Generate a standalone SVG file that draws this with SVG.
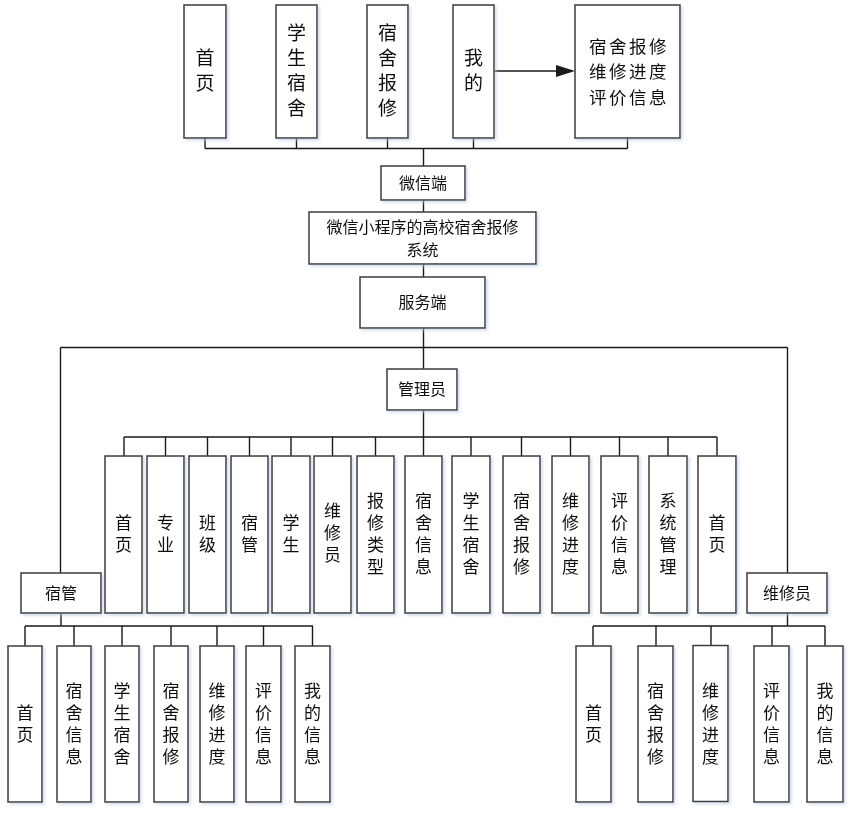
<svg xmlns="http://www.w3.org/2000/svg" width="852" height="815" viewBox="0 0 852 815">
<style>
.b{fill:#fff;stroke:#3a3a3a;stroke-width:1.5}
.c{fill:none;stroke:#1a1a1a;stroke-width:1.4}
text{font-family:"Noto Sans CJK SC","Noto Sans",sans-serif;fill:#111;text-anchor:middle}
.v{writing-mode:vertical-rl}
.t19{font-size:19px;letter-spacing:6px}
.t17{font-size:17px;letter-spacing:5px}
.t175{font-size:17.5px;letter-spacing:2.5px}
.t16{font-size:16px}
</style>
<defs>
<filter id="sh" x="-20%" y="-20%" width="150%" height="150%">
<feDropShadow dx="2" dy="2" stdDeviation="1.5" flood-color="#b8c8e0" flood-opacity="0.6"/>
</filter>
</defs>
<rect width="852" height="815" fill="#fff"/>
<g id="connectors">
<path class="c" d="M205,138V148.5M296.5,138V148.5M387.5,138V148.5M473.5,138V148.5M627.5,138V148.5M205,148.5H627.5M423.5,148.5V166"/>
<path class="c" d="M494,71H557"/>
<polygon points="556,65 575,71 556,77" fill="#1a1a1a"/>
<path class="c" d="M423.5,200V212M423.5,264V277M423.5,328V369M60.5,347.5H787.5M60.5,347.5V573M787.5,347.5V573"/>
<path class="c" d="M423.5,410V437M124,437H717M124,437V456M165.5,437V456M207.5,437V456M249.5,437V456M291,437V456M332.5,437V456M375.5,437V456M423.5,437V456M471,437V456M521.5,437V456M570.5,437V456M619.5,437V456M668,437V456M717,437V456"/>
<path class="c" d="M61,613V626M25,626H313M25,626V646M74,626V646M122,626V646M171,626V646M217,626V646M263.5,626V646M312.5,626V646"/>
<path class="c" d="M787.5,613V626M593,626H825M593,626V646M656,626V646M711,626V645.5M772,626V646M825,626V646"/>
</g>
<g filter="url(#sh)">
<g id="n-top-home"><rect class="b" x="184" y="5" width="42" height="133"/><text class="v t19" x="205" y="73.5">首页</text></g>
<g id="n-top-dorm"><rect class="b" x="276" y="5" width="41" height="133"/><text class="v t19" x="296.5" y="73.5">学生宿舍</text></g>
<g id="n-top-repair"><rect class="b" x="367" y="5" width="41" height="133"/><text class="v t19" x="387.5" y="73.5">宿舍报修</text></g>
<g id="n-top-mine"><rect class="b" x="453" y="5" width="41" height="133"/><text class="v t19" x="473.5" y="73.5">我的</text></g>
<g id="n-top-info"><rect class="b" x="575" y="5" width="105" height="133"/><text class="t175" x="629" y="52.7">宿舍报修</text><text class="t175" x="629" y="78.2">维修进度</text><text class="t175" x="629" y="103.7">评价信息</text></g>
<g id="n-wechat"><rect class="b" x="381" y="166" width="84" height="34"/><text class="t16" x="423" y="189">微信端</text></g>
<g id="n-system"><rect class="b" x="309" y="212" width="227" height="52"/><text class="t16" x="422.5" y="232.5">微信小程序的高校宿舍报修</text><text class="t16" x="422.5" y="256">系统</text></g>
<g id="n-server"><rect class="b" x="360" y="277" width="125" height="51"/><text class="t16" x="422.5" y="308">服务端</text></g>
<g id="n-admin"><rect class="b" x="387" y="369" width="70" height="41"/><text class="t16" x="422" y="395">管理员</text></g>
<g id="n-dorm-mgr"><rect class="b" x="21" y="573" width="80" height="40"/><text class="t16" x="61" y="599">宿管</text></g>
<g id="n-repairman"><rect class="b" x="747" y="573" width="80" height="40"/><text class="t16" x="787" y="599">维修员</text></g>

<g id="a1"><rect class="b" x="105" y="456" width="37" height="157"/><text class="v t17" x="123.5" y="536.5">首页</text></g>
<g id="a2"><rect class="b" x="147" y="456" width="37" height="157"/><text class="v t17" x="165.5" y="536.5">专业</text></g>
<g id="a3"><rect class="b" x="189" y="456" width="37" height="157"/><text class="v t17" x="207.5" y="536.5">班级</text></g>
<g id="a4"><rect class="b" x="231" y="456" width="37" height="157"/><text class="v t17" x="249.5" y="536.5">宿管</text></g>
<g id="a5"><rect class="b" x="272" y="456" width="38" height="157"/><text class="v t17" x="291" y="536.5">学生</text></g>
<g id="a6"><rect class="b" x="314" y="456" width="37" height="157"/><text class="v t17" x="332.5" y="535.5">维修员</text></g>
<g id="a7"><rect class="b" x="357" y="456" width="37" height="157"/><text class="v t17" x="375.5" y="536.5">报修类型</text></g>
<g id="a8"><rect class="b" x="405" y="456" width="37" height="157"/><text class="v t17" x="423.5" y="536.5">宿舍信息</text></g>
<g id="a9"><rect class="b" x="452" y="456" width="38" height="157"/><text class="v t17" x="471" y="536.5">学生宿舍</text></g>
<g id="a10"><rect class="b" x="503" y="456" width="37" height="157"/><text class="v t17" x="521.5" y="536.5">宿舍报修</text></g>
<g id="a11"><rect class="b" x="552" y="456" width="37" height="157"/><text class="v t17" x="570.5" y="536.5">维修进度</text></g>
<g id="a12"><rect class="b" x="601" y="456" width="37" height="157"/><text class="v t17" x="619.5" y="536.5">评价信息</text></g>
<g id="a13"><rect class="b" x="649" y="456" width="38" height="157"/><text class="v t17" x="668" y="536.5">系统管理</text></g>
<g id="a14"><rect class="b" x="698" y="456" width="38" height="157"/><text class="v t17" x="717" y="536.5">首页</text></g>

<g id="d1"><rect class="b" x="8" y="646" width="34" height="156"/><text class="v t17" x="25" y="726.5">首页</text></g>
<g id="d2"><rect class="b" x="57" y="646" width="34" height="156"/><text class="v t17" x="74" y="726.5">宿舍信息</text></g>
<g id="d3"><rect class="b" x="105" y="646" width="34" height="156"/><text class="v t17" x="122" y="726.5">学生宿舍</text></g>
<g id="d4"><rect class="b" x="154" y="646" width="34" height="156"/><text class="v t17" x="171" y="726.5">宿舍报修</text></g>
<g id="d5"><rect class="b" x="200" y="646" width="34" height="156"/><text class="v t17" x="217" y="726.5">维修进度</text></g>
<g id="d6"><rect class="b" x="246" y="646" width="35" height="156"/><text class="v t17" x="263.5" y="726.5">评价信息</text></g>
<g id="d7"><rect class="b" x="295" y="646" width="35" height="156"/><text class="v t17" x="312.5" y="726.5">我的信息</text></g>

<g id="r1"><rect class="b" x="576" y="646" width="35" height="156"/><text class="v t17" x="593.5" y="726.5">首页</text></g>
<g id="r2"><rect class="b" x="638" y="646" width="35" height="156"/><text class="v t17" x="655.5" y="726.5">宿舍报修</text></g>
<g id="r3"><rect class="b" x="693" y="645.5" width="35" height="156"/><text class="v t17" x="710.5" y="726.5">维修进度</text></g>
<g id="r4"><rect class="b" x="754" y="646" width="35" height="156"/><text class="v t17" x="771.5" y="726.5">评价信息</text></g>
<g id="r5"><rect class="b" x="807" y="646" width="36" height="156"/><text class="v t17" x="825" y="726.5">我的信息</text></g>
</g>
</svg>
